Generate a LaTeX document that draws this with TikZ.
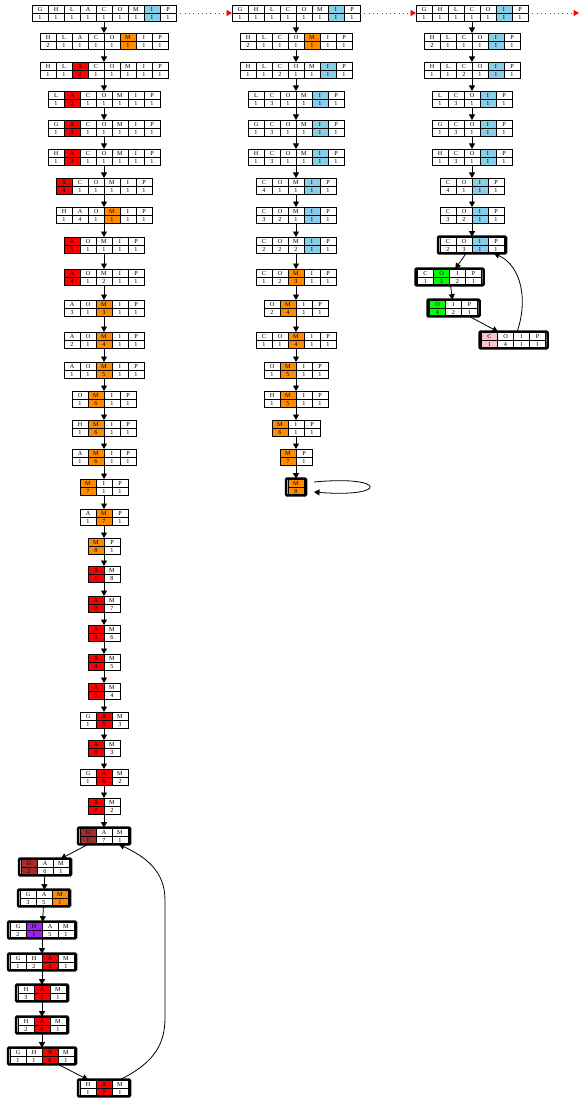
\documentclass[tikz,border=0pt]{standalone}
\usepackage{fontspec}
\setmainfont{Liberation Serif}
\usetikzlibrary{arrows.meta,calc}
\definecolor{sky}{HTML}{87CEEB}
\definecolor{orng}{HTML}{FF8C00}
\definecolor{rd}{HTML}{FF0000}
\definecolor{brn}{HTML}{A52A2A}
\definecolor{grn}{HTML}{00FF00}
\definecolor{prp}{HTML}{A020F0}
\definecolor{pnk}{HTML}{FFC0CB}
\colorlet{w}{white}
\tikzset{
  cell/.style={draw=black,line width=0.55pt},
  lab/.style={inner sep=0pt,font=\fontsize{6.2}{7}\selectfont},
  tab/.style={draw=black,line width=0.9pt,inner sep=0pt,outer sep=0pt,rectangle},
  thickframe/.style={line width=2.5pt,rounded corners=1pt},
  edge/.style={draw=black,line width=0.8pt,-{Triangle[length=5.5pt,width=6pt]}},
  redge/.style={draw=rd,line width=0.8pt,dash pattern=on 0.8pt off 3.5pt,-{Triangle[length=5.5pt,width=6pt]}},
}
% \rec[frame options]{name}{centre x}{centre y}{cells}{letter/count/fill, ...}
\newcommand\rec[6][]{%
  \foreach \lt/\nm/\cf [count=\k from 0] in {#6}{%
    \pgfmathsetmacro\xl{#3-8*#5+16*\k}%
    \filldraw[cell,fill=\cf] (\xl,#4-8) rectangle ++(16,8);
    \filldraw[cell,fill=\cf] (\xl,#4) rectangle ++(16,8);
    \node[lab] at (\xl+8,#4-4) {\lt};
    \node[lab] at (\xl+8,#4+4) {\nm};
  }%
  \node[tab,minimum width=16*#5,minimum height=16,#1] (#2) at (#3,#4) {};%
}
% table with a heavy outer frame
\newcommand\brec[5]{\rec[thickframe,minimum width={16*#4+4},minimum height=16.6]{#1}{#2}{#3}{#4}{#5}}
\begin{document}
\begin{tikzpicture}[x=1pt,y=-1pt]
\useasboundingbox (0,0) rectangle (580,1102);

% ---------- first column ----------
\rec{a1}{104}{13}{9}{G/1/w,H/1/w,L/1/w,A/1/w,C/1/w,O/1/w,M/1/w,I/1/sky,P/1/w}
\rec{a2}{104}{41}{8}{H/2/w,L/1/w,A/1/w,C/1/w,O/1/w,M/1/orng,I/1/w,P/1/w}
\rec{a3}{104}{70}{8}{H/1/w,L/1/w,A/2/rd,C/1/w,O/1/w,M/1/w,I/1/w,P/1/w}
\rec{a4}{104}{99}{7}{L/1/w,A/3/rd,C/1/w,O/1/w,M/1/w,I/1/w,P/1/w}
\rec{a5}{104}{128}{7}{G/1/w,A/3/rd,C/1/w,O/1/w,M/1/w,I/1/w,P/1/w}
\rec{a6}{104}{157}{7}{H/1/w,A/3/rd,C/1/w,O/1/w,M/1/w,I/1/w,P/1/w}
\rec{a7}{104}{186}{6}{A/4/rd,C/1/w,O/1/w,M/1/w,I/1/w,P/1/w}
\rec{a8}{104}{215}{6}{H/1/w,A/4/w,O/1/w,M/1/orng,I/1/w,P/1/w}
\rec{a9}{104}{245}{5}{A/5/rd,O/1/w,M/1/w,I/1/w,P/1/w}
\rec{a10}{104}{277}{5}{A/4/rd,O/1/w,M/2/w,I/1/w,P/1/w}
\rec{a11}{104}{308}{5}{A/3/w,O/1/w,M/3/orng,I/1/w,P/1/w}
\rec{a12}{104}{340}{5}{A/2/w,O/1/w,M/4/orng,I/1/w,P/1/w}
\rec{a13}{104}{370}{5}{A/1/w,O/1/w,M/5/orng,I/1/w,P/1/w}
\rec{a14}{104}{399}{4}{O/1/w,M/6/orng,I/1/w,P/1/w}
\rec{a15}{104}{428}{4}{H/1/w,M/6/orng,I/1/w,P/1/w}
\rec{a16}{104}{457}{4}{A/1/w,M/6/orng,I/1/w,P/1/w}
\rec{a17}{104}{487}{3}{M/7/orng,I/1/w,P/1/w}
\rec{a18}{104}{517}{3}{A/1/w,M/7/orng,P/1/w}
\rec{a19}{104}{546}{2}{M/8/orng,P/1/w}
\rec{a20}{104}{574}{2}{A/1/rd,M/8/w}
\rec{a21}{104}{604}{2}{A/2/rd,M/7/w}
\rec{a22}{104}{633}{2}{A/3/rd,M/6/w}
\rec{a23}{104}{662}{2}{A/4/rd,M/5/w}
\rec{a24}{104}{691}{2}{A/5/rd,M/4/w}
\rec{a25}{104}{720}{3}{G/1/w,A/5/rd,M/3/w}
\rec{a26}{104}{748}{2}{A/6/rd,M/3/w}
\rec{a27}{104}{777}{3}{G/1/w,A/6/rd,M/2/w}
\rec{a28}{104}{806}{2}{A/7/rd,M/2/w}
\brec{a29}{104}{836}{3}{G/1/brn,A/7/w,M/1/w}
\brec{a30}{45}{867}{3}{G/2/brn,A/6/w,M/1/w}
\brec{a31}{44}{898}{3}{G/3/w,A/5/w,M/1/orng}
\brec{a32}{42}{930}{4}{G/2/w,H/1/prp,A/5/w,M/1/w}
\brec{a33}{42}{962}{4}{G/1/w,H/2/w,A/5/rd,M/1/w}
\brec{a34}{42}{993}{3}{H/3/w,A/5/rd,M/1/w}
\brec{a35}{42}{1025}{3}{H/2/w,A/6/rd,M/1/w}
\brec{a36}{42}{1056}{4}{G/1/w,H/1/w,A/6/rd,M/1/w}
\brec{a37}{104}{1088}{3}{H/1/w,A/7/rd,M/1/w}

% ---------- second column ----------
\rec{b1}{296}{13}{8}{G/1/w,H/1/w,L/1/w,C/1/w,O/1/w,M/1/w,I/1/sky,P/1/w}
\rec{b2}{296}{41}{7}{H/2/w,L/1/w,C/1/w,O/1/w,M/1/orng,I/1/w,P/1/w}
\rec{b3}{296}{70}{7}{H/1/w,L/1/w,C/2/w,O/1/w,M/1/w,I/1/sky,P/1/w}
\rec{b4}{296}{99}{6}{L/1/w,C/3/w,O/1/w,M/1/w,I/1/sky,P/1/w}
\rec{b5}{296}{128}{6}{G/1/w,C/3/w,O/1/w,M/1/w,I/1/sky,P/1/w}
\rec{b6}{296}{157}{6}{H/1/w,C/3/w,O/1/w,M/1/w,I/1/sky,P/1/w}
\rec{b7}{296}{186}{5}{C/4/w,O/1/w,M/1/w,I/1/sky,P/1/w}
\rec{b8}{296}{215}{5}{C/3/w,O/2/w,M/1/w,I/1/sky,P/1/w}
\rec{b9}{296}{245}{5}{C/2/w,O/2/w,M/2/w,I/1/sky,P/1/w}
\rec{b10}{296}{277}{5}{C/1/w,O/2/w,M/3/orng,I/1/w,P/1/w}
\rec{b11}{296}{308}{4}{O/2/w,M/4/orng,I/1/w,P/1/w}
\rec{b12}{296}{340}{5}{C/1/w,O/1/w,M/4/orng,I/1/w,P/1/w}
\rec{b13}{296}{370}{4}{O/1/w,M/5/orng,I/1/w,P/1/w}
\rec{b14}{296}{399}{4}{H/1/w,M/5/orng,I/1/w,P/1/w}
\rec{b15}{296}{428}{3}{M/6/orng,I/1/w,P/1/w}
\rec{b16}{296}{457}{2}{M/7/orng,P/1/w}
\brec{b17}{296}{487}{1}{M/8/orng}

% ---------- third column ----------
\rec{c1}{472}{13}{7}{G/1/w,H/1/w,L/1/w,C/1/w,O/1/w,I/1/sky,P/1/w}
\rec{c2}{472}{41}{6}{H/2/w,L/1/w,C/1/w,O/1/w,I/1/sky,P/1/w}
\rec{c3}{472}{70}{6}{H/1/w,L/1/w,C/2/w,O/1/w,I/1/sky,P/1/w}
\rec{c4}{472}{99}{5}{L/1/w,C/3/w,O/1/w,I/1/sky,P/1/w}
\rec{c5}{472}{128}{5}{G/1/w,C/3/w,O/1/w,I/1/sky,P/1/w}
\rec{c6}{472}{157}{5}{H/1/w,C/3/w,O/1/w,I/1/sky,P/1/w}
\rec{c7}{472}{186}{4}{C/4/w,O/1/w,I/1/sky,P/1/w}
\rec{c8}{472}{215}{4}{C/3/w,O/2/w,I/1/sky,P/1/w}
\brec{c9}{472}{245}{4}{C/2/w,O/3/w,I/1/sky,P/1/w}
\brec{c10}{449.5}{277}{4}{C/1/w,O/3/grn,I/2/w,P/1/w}
\brec{c11}{453.5}{308}{3}{O/4/grn,I/2/w,P/1/w}
\brec{c12}{513.5}{340}{4}{C/1/pnk,O/4/w,I/1/w,P/1/w}

% ---------- connectors ----------
\foreach \i [evaluate=\i as \j using int(\i+1)] in {1,...,36}
  \draw[edge] (a\i) -- (a\j);
\foreach \i [evaluate=\i as \j using int(\i+1)] in {1,...,16}
  \draw[edge] (b\i) -- (b\j);
\foreach \i [evaluate=\i as \j using int(\i+1)] in {1,...,11}
  \draw[edge] (c\i) -- (c\j);

% back edges
\draw[edge] ($(a37.north)+(16,0)$) .. controls +(30,-15) and +(0,30) .. (165,1018)
  -- (165,900) .. controls +(0,-30) and +(25,12) .. ($(a29.south)+(15,0)$);
\draw[edge] ($(c12.north)+(3.5,0)$) .. controls +(11,-30) and +(28,13) .. ($(c9.south)+(22,0)$);
\draw[edge] ($(b17.east)+(8,-5)$) .. controls +(74,-7) and +(74,6) .. ($(b17.east)+(8,5)$);

% dotted links along the top
\coordinate (tail) at (579,13);
\draw[redge] (a1) -- (b1);
\draw[redge] (b1) -- (c1);
\draw[redge] (c1) -- (tail);
\end{tikzpicture}
\end{document}
